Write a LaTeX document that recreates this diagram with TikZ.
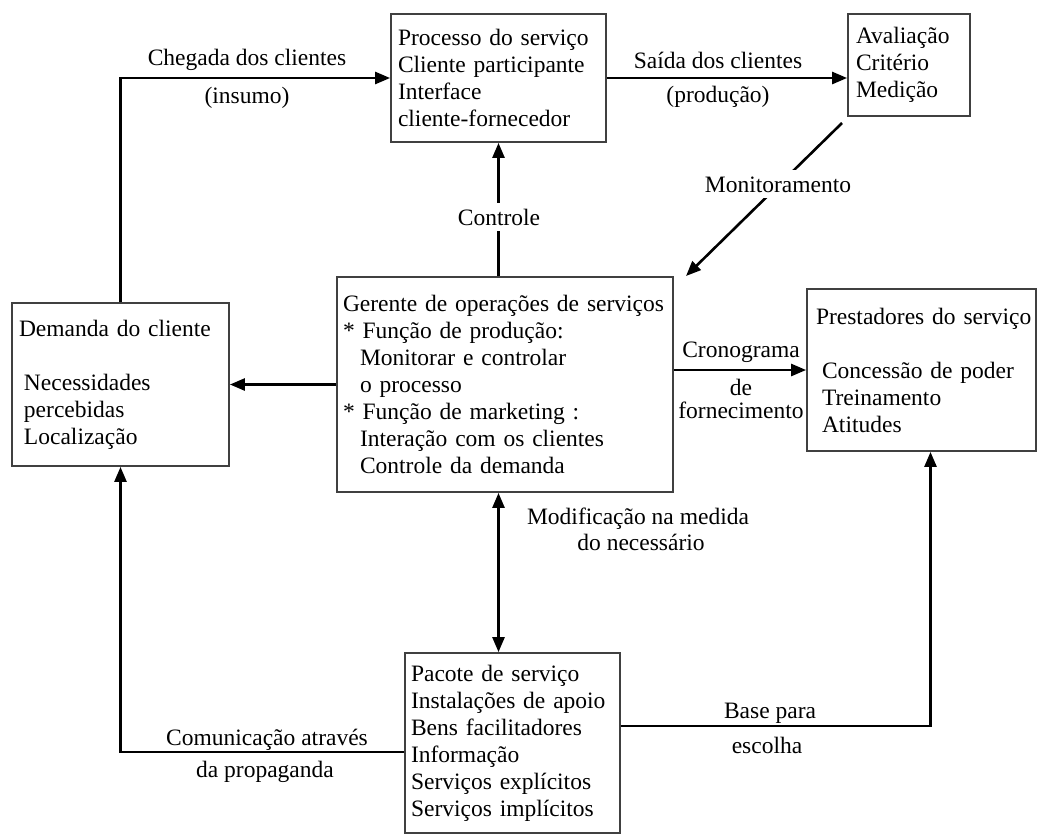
\documentclass[tikz,border=0pt]{standalone}
\usepackage{fontspec}
\setmainfont{Liberation Serif}
\usetikzlibrary{arrows.meta}
\tikzset{
  box/.style={draw=black!75, line width=1.8pt, rectangle, align=left, inner xsep=7pt, inner ysep=0pt, font=\fontsize{23.5}{27}\selectfont},
  arr/.style={line width=2.6pt, -{Triangle[length=15pt,width=12pt]}},
  dblarr/.style={line width=2.6pt, {Triangle[length=15pt,width=12pt]}-{Triangle[length=15pt,width=12pt]}},
  lbl/.style={font=\fontsize{23.5}{27}\selectfont, inner sep=0pt},
  wlbl/.style={font=\fontsize{23.5}{27}\selectfont, fill=white, inner xsep=3pt, inner ysep=6pt}
}
\begin{document}
\begin{tikzpicture}[x=1pt,y=-1pt]
\useasboundingbox (0,0) rectangle (1048,836);
\fill[white] (0,0) rectangle (1048,836);

% boxes
\node[box, minimum width=215pt, minimum height=128pt, text width=201pt] (proc) at (498.5,78)
  {Processo do serviço\\Cliente participante\\Interface\\cliente-fornecedor};
\node[box, minimum width=122pt, minimum height=102pt, text width=106pt, inner xsep=8pt] (aval) at (909,65)
  {Avaliação\\Critério\\Medição};
\node[box, minimum width=217pt, minimum height=163pt, text width=203pt] (dem) at (120.5,384.5)
  {Demanda do cliente\\[27pt]\hspace*{5pt}Necessidades\\\hspace*{5pt}percebidas\\\hspace*{5pt}Localização};
\node[box, minimum width=336pt, minimum height=215pt, text width=324pt, inner xsep=6pt] (ger) at (505,384.5)
  {Gerente de operações de serviços\\
   {*} Função de produção:\\
   \hspace*{17pt}Monitorar e controlar\\
   \hspace*{17pt}o processo\\
   {*} Função de marketing :\\
   \hspace*{17pt}Interação com os clientes\\
   \hspace*{17pt}Controle da demanda};
\node[box, minimum width=229pt, minimum height=162pt, text width=221pt, inner xsep=4pt] (pres) at (921.5,370)
  {\hspace*{5pt}Prestadores do serviço\\[27pt]\hspace*{11pt}Concessão de poder\\\hspace*{11pt}Treinamento\\\hspace*{11pt}Atitudes};
\node[box, minimum width=215pt, minimum height=180pt, text width=203pt, inner xsep=6pt] (pac) at (512.5,743)
  {Pacote de serviço\\Instalações de apoio\\Bens facilitadores\\Informação\\Serviços explícitos\\Serviços implícitos};

% free-end coordinates
\coordinate (m1) at (842,123);
\coordinate (m2) at (686,276);

% connectors
\draw[arr] (dem.north) |- (proc.west);
\draw[arr] (proc.east) -- (proc.east -| aval.west);
\draw[arr] (ger.north -| proc.south) -- (proc.south);
\draw[arr] (m1) -- (m2);
\draw[arr] (ger.west) -- (dem.east);
\draw[arr] (pres.west -| ger.east) -- (pres.west);
\draw[dblarr] (ger.south -| proc.south) -- (pac.north -| proc.south);
\draw[arr] ([yshift=-74pt]pac.north east) -| ([xshift=9pt]pres.south);
\draw[arr] ([yshift=-100pt]pac.north west) -| (dem.south);

% labels
\node[lbl, anchor=base] (l1) at (247,65) {Chegada dos clientes};
\node[lbl, anchor=base] (l2) at (247,103) {(insumo)};
\node[lbl, anchor=base] (l3) at (718,68) {Saída dos clientes};
\node[lbl, anchor=base] (l4) at (718,102) {(produção)};
\node[wlbl, anchor=base] (l5) at (499,225) {Controle};
\node[wlbl, anchor=base] (l6) at (778,192) {Monitoramento};
\node[lbl, anchor=base] (l7) at (741,357) {Cronograma};
\node[lbl, anchor=base] (l8) at (741,395) {de};
\node[lbl, anchor=base] (l9) at (741,418) {fornecimento};
\node[lbl, anchor=base] (l10) at (638,524) {Modificação na medida};
\node[lbl, anchor=base] (l11) at (641,550) {do necessário};
\node[lbl, anchor=base] (l12) at (770,718) {Base para};
\node[lbl, anchor=base] (l13) at (767,753) {escolha};
\node[lbl, anchor=base] (l14) at (267,745) {Comunicação através};
\node[lbl, anchor=base] (l15) at (265,777) {da propaganda};
\end{tikzpicture}
\end{document}
